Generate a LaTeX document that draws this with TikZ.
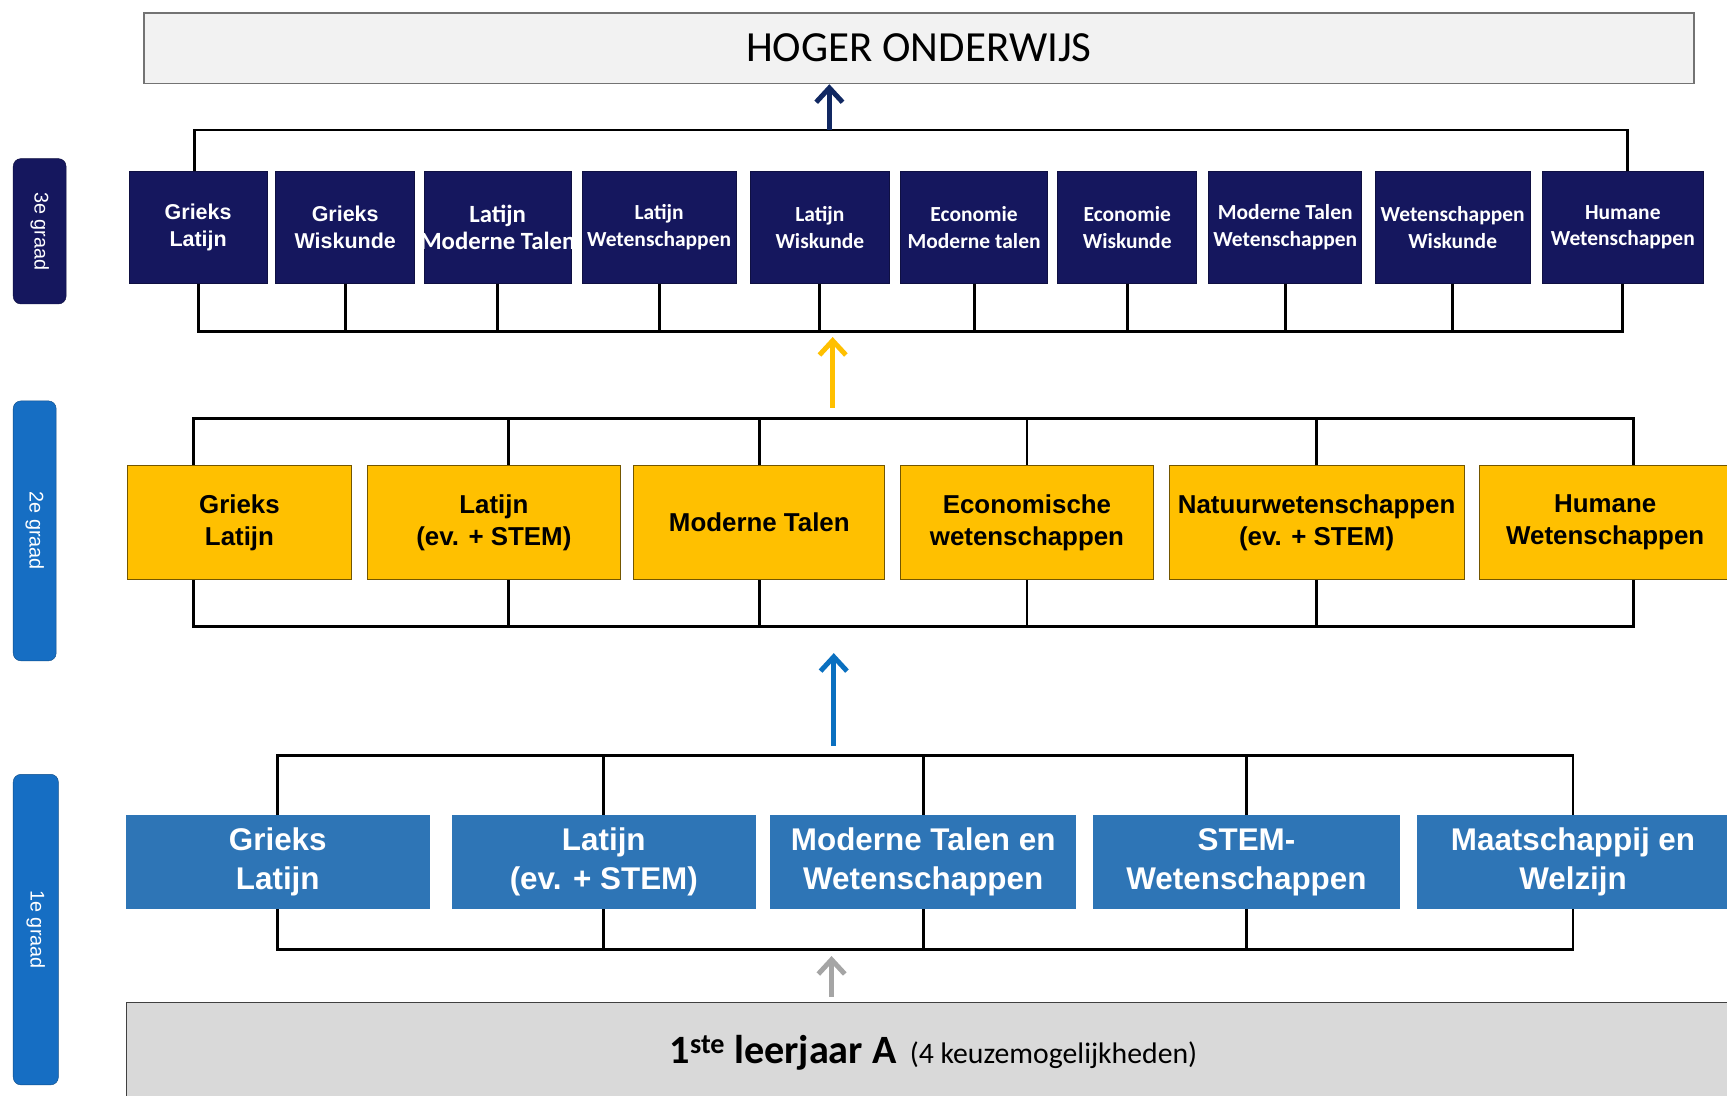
\documentclass[tikz,border=0pt]{standalone}
\usepackage{fontspec}
\setmainfont{Carlito}
\newfontfamily\arialfont{Liberation Sans}
\usepackage{tikz}
\usetikzlibrary{arrows.meta}
\tikzset{>={Straight Barb[length=13pt,width=24pt]}}

\definecolor{graadnavy}{RGB}{21,23,94}
\definecolor{graadgold}{RGB}{255,192,0}
\definecolor{graadblue}{RGB}{46,117,182}
\definecolor{tabblue}{RGB}{22,110,195}
\definecolor{pijlnavy}{RGB}{17,40,98}
\definecolor{pijlblue}{RGB}{10,112,192}
\definecolor{pijlgray}{RGB}{165,165,165}
\definecolor{hogerfill}{RGB}{242,242,242}
\definecolor{leerfill}{RGB}{217,217,217}

\tikzset{
  vak/.style={anchor=north west, inner sep=0pt, align=center},
  graad3/.style={vak, draw=graadnavy!70!black, line width=0.8pt, fill=graadnavy,
    text=white, minimum height=102pt, font=\bfseries\fontsize{19.5}{24}\selectfont},
  graad2/.style={vak, draw=graadgold!45!black, line width=0.8pt, fill=graadgold,
    text=black, minimum height=104pt, font=\arialfont\bfseries\fontsize{23.5}{29}\selectfont},
  graad1/.style={vak, fill=graadblue, text=white, minimum height=85pt,
    font=\arialfont\bfseries\fontsize{28.5}{35}\selectfont},
  tab/.style={rounded corners=7pt, inner sep=0pt, rotate=-90, text=white,
    font=\arialfont\fontsize{18}{20}\selectfont},
  bracket/.style={line width=2.6pt, black},
  pijl/.style={->, line width=4.5pt}
}

\begin{document}
\begin{tikzpicture}[x=1pt, y=-1pt]

  \useasboundingbox (0,0) rectangle (1568,995);

  % hoger onderwijs
  \node[vak, draw=black!55, line width=1.5pt, fill=hogerfill, minimum width=1407pt,
    minimum height=64pt, font=\fontsize{39}{42}\selectfont] (hoger) at (130,11) {HOGER ONDERWIJS};

  % tabs
  \node[tab, fill=graadnavy, draw=graadnavy!70!black, minimum width=132pt, minimum height=48pt] (tab3) at (36,210) {3e graad};
  \node[tab, fill=tabblue, draw=tabblue!70!black, minimum width=236pt, minimum height=39pt] (tab2) at (31.5,482) {2e graad};
  \node[tab, fill=tabblue, draw=tabblue!70!black, minimum width=282pt, minimum height=41pt] (tab1) at (32.5,844) {1e graad};

  % 3e graad
  \node[graad3, minimum width=125pt, font=\arialfont\bfseries\fontsize{19.5}{24}\selectfont] (n1) at (117,155) {Grieks\\Latijn};
  \node[graad3, minimum width=126pt, font=\arialfont\bfseries\fontsize{19.5}{24}\selectfont] (n2) at (250,155) {Grieks\\Wiskunde};
  \node[graad3, minimum width=133pt, font=\bfseries\fontsize{22.5}{24}\selectfont] (n3) at (385,155) {Latijn\\\makebox[0pt]{Moderne Talen}};
  \node[graad3, minimum width=140pt] (n4) at (528,155) {Latijn\\Wetenschappen};
  \node[graad3, minimum width=126pt] (n5) at (681,155) {Latijn\\Wiskunde};
  \node[graad3, minimum width=134pt] (n6) at (817,155) {Economie\\Moderne talen};
  \node[graad3, minimum width=126pt] (n7) at (960,155) {Economie\\Wiskunde};
  \node[graad3, minimum width=139pt] (n8) at (1097,155) {Moderne Talen\\Wetenschappen};
  \node[graad3, minimum width=141pt] (n9) at (1248,155) {Wetenschappen\\Wiskunde};
  \node[graad3, minimum width=146pt] (n10) at (1400,155) {Humane\\Wetenschappen};

  \coordinate (h3) at (0,118);
  \coordinate (l3) at (0,301);
  \draw[bracket] ([xshift=-3pt]n1.north) -- ([xshift=-3pt]n1.north |- h3) -- ([xshift=4pt]n10.north |- h3) -- ([xshift=4pt]n10.north);
  \draw[bracket] (n1.south) -- (n1.south |- l3) -- (n10.south |- l3) -- (n10.south);
  \draw[bracket] (n2.south) -- (n2.south |- l3);
  \draw[bracket] (n3.south) -- (n3.south |- l3);
  \draw[bracket] (n4.south) -- (n4.south |- l3);
  \draw[bracket] (n5.south) -- (n5.south |- l3);
  \draw[bracket] (n6.south) -- (n6.south |- l3);
  \draw[bracket] (n7.south) -- (n7.south |- l3);
  \draw[bracket] (n8.south) -- (n8.south |- l3);
  \draw[bracket] (n9.south) -- (n9.south |- l3);

  \coordinate (p3) at (753,118);
  \draw[pijl, pijlnavy] (p3) -- (p3 |- hoger.south);

  % 2e graad
  \node[graad2, minimum width=204pt] (y1) at (115,422) {Grieks\\Latijn};
  \node[graad2, minimum width=230pt] (y2) at (333,422) {Latijn\\(ev. + STEM)};
  \node[graad2, minimum width=228pt] (y3) at (575,422) {Moderne Talen};
  \node[graad2, minimum width=230pt] (y4) at (817,422) {Economische\\wetenschappen};
  \node[graad2, minimum width=268pt] (y5) at (1061,422) {Natuurwetenschappen\\(ev. + STEM)};
  \node[graad2, minimum width=228pt] (y6) at (1343,422) {Humane\\Wetenschappen};

  \coordinate (h2) at (0,380);
  \coordinate (l2) at (0,569);
  \draw[bracket] ([xshift=-42pt]y1.north) -- ([xshift=-42pt]y1.north |- h2) -- ([xshift=26pt]y6.north |- h2) -- ([xshift=26pt]y6.north);
  \draw[bracket] ([xshift=-42pt]y1.south) -- ([xshift=-42pt]y1.south |- l2) -- ([xshift=26pt]y6.south |- l2) -- ([xshift=26pt]y6.south);
  \draw[bracket] ([xshift=13pt]y2.north) -- ([xshift=13pt]y2.north |- h2);
  \draw[bracket] (y3.north) -- (y3.north |- h2);
  \draw[bracket] (y4.north) -- (y4.north |- h2);
  \draw[bracket] (y5.north) -- (y5.north |- h2);
  \draw[bracket] ([xshift=13pt]y2.south) -- ([xshift=13pt]y2.south |- l2);
  \draw[bracket] (y3.south) -- (y3.south |- l2);
  \draw[bracket] (y4.south) -- (y4.south |- l2);
  \draw[bracket] (y5.south) -- (y5.south |- l2);

  \coordinate (p2a) at (756,370);
  \coordinate (p2b) at (756,306);
  \draw[pijl, graadgold] (p2a) -- (p2b);

  % 1e graad
  \node[graad1, minimum width=276pt] (b1) at (114,740) {Grieks\\Latijn};
  \node[graad1, minimum width=276pt] (b2) at (410,740) {Latijn\\(ev. + STEM)};
  \node[graad1, minimum width=278pt] (b3) at (699,740) {Moderne Talen en\\Wetenschappen};
  \node[graad1, minimum width=279pt] (b4) at (992,740) {STEM-\\Wetenschappen};
  \node[graad1, minimum width=284pt] (b5) at (1286,740) {Maatschappij en\\Welzijn};

  \coordinate (h1) at (0,686);
  \coordinate (l1) at (0,862);
  \draw[bracket] (b1.north) -- (b1.north |- h1) -- (b5.north |- h1) -- (b5.north);
  \draw[bracket] (b1.south) -- (b1.south |- l1) -- (b5.south |- l1) -- (b5.south);
  \draw[bracket] (b2.north) -- (b2.north |- h1);
  \draw[bracket] (b3.north) -- (b3.north |- h1);
  \draw[bracket] (b4.north) -- (b4.north |- h1);
  \draw[bracket] (b2.south) -- (b2.south |- l1);
  \draw[bracket] (b3.south) -- (b3.south |- l1);
  \draw[bracket] (b4.south) -- (b4.south |- l1);

  \coordinate (p1a) at (757,677);
  \coordinate (p1b) at (757,593);
  \draw[pijl, pijlblue] (p1a) -- (p1b);

  % 1ste leerjaar
  \node[vak, draw=black!75, line width=1pt, fill=leerfill, minimum width=1466pt,
    minimum height=90pt] (leer) at (114,910)
    {{\bfseries\fontsize{36.5}{40}\selectfont 1\textsuperscript{ste} leerjaar A}\hspace{12pt}{\fontsize{27}{30}\selectfont(4 keuzemogelijkheden)}};

  \coordinate (p0a) at (755,905);
  \coordinate (p0b) at (755,868);
  \draw[pijl, pijlgray] (p0a) -- (p0b);

\end{tikzpicture}
\end{document}
